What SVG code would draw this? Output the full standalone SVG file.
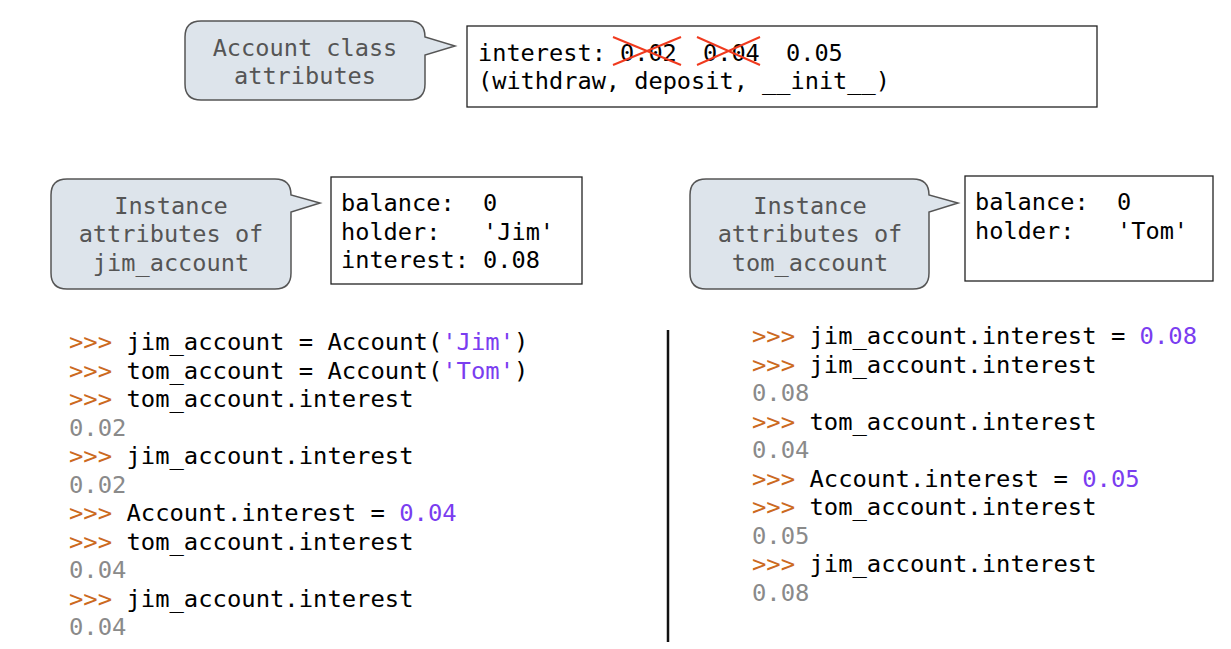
<svg xmlns="http://www.w3.org/2000/svg" width="1231" height="649" viewBox="0 0 1231 649">
<style>
text{font-family:"DejaVu Sans Mono","Liberation Mono",monospace;font-size:23.85px;fill:#000;white-space:pre}
.bub{fill:#dde4eb;stroke:#555;stroke-width:1.5}
.bt{fill:#555;text-anchor:middle;font-size:23.6px}
.tb{font-size:23.6px}
.box{fill:#fff;stroke:#222;stroke-width:1.3}
.p{fill:#cc6a1f}
.v{fill:#7a3df0}
.o{fill:#8a8a8a}
.x{stroke:#f03a1e;stroke-width:2}
</style>
<rect width="1231" height="649" fill="#fff"/>
<g id="class-bubble">
<path class="bub" d="M201,21 H409 Q425,21 425,37 L455,46 L425,55 V84 Q425,100 409,100 H201 Q185,100 185,84 V37 Q185,21 201,21 Z"/>
<text class="bt" x="305" y="56">Account class</text>
<text class="bt" x="305" y="84">attributes</text>
</g>
<g id="class-box">
<rect class="box" x="467" y="26" width="630" height="81"/>
<text class="tb" x="478" y="61">interest:</text>
<text class="tb" x="620" y="61">0.02</text>
<text class="tb" x="703" y="61">0.04</text>
<text class="tb" x="786" y="61">0.05</text>
<line class="x" x1="613" y1="37" x2="681" y2="65"/>
<line class="x" x1="613" y1="65" x2="681" y2="37"/>
<line class="x" x1="697" y1="37" x2="760" y2="65"/>
<line class="x" x1="697" y1="65" x2="760" y2="37"/>
<text class="tb" x="478" y="89">(withdraw, deposit, __init__)</text>
</g>
<g id="jim-bubble">
<path class="bub" d="M67,179 H275 Q291,179 291,195 L320,203 L291,212 V273 Q291,289 275,289 H67 Q51,289 51,273 V195 Q51,179 67,179 Z"/>
<text class="bt" x="171" y="214">Instance</text>
<text class="bt" x="171" y="242">attributes of</text>
<text class="bt" x="171" y="271">jim_account</text>
</g>
<g id="jim-box">
<rect class="box" x="331" y="177" width="251" height="107"/>
<text class="tb" x="341" y="211">balance:  0</text>
<text class="tb" x="341" y="240">holder:   'Jim'</text>
<text class="tb" x="341" y="268">interest: 0.08</text>
</g>
<g id="tom-bubble">
<path class="bub" d="M706,179 H913 Q929,179 929,195 L958,203 L929,212 V273 Q929,289 913,289 H706 Q690,289 690,273 V195 Q690,179 706,179 Z"/>
<text class="bt" x="810" y="214">Instance</text>
<text class="bt" x="810" y="242">attributes of</text>
<text class="bt" x="810" y="271">tom_account</text>
</g>
<g id="tom-box">
<rect class="box" x="965" y="176" width="248" height="105"/>
<text class="tb" x="975" y="210">balance:  0</text>
<text class="tb" x="975" y="239">holder:   'Tom'</text>
</g>
<g id="divider">
<line x1="668" y1="330" x2="668" y2="642" stroke="#111" stroke-width="2.5"/>
</g>
<g id="left-code">
<text x="69" y="350"><tspan class="p">&gt;&gt;&gt;</tspan> jim_account = Account(<tspan class="v">'Jim'</tspan>)</text>
<text x="69" y="378.5"><tspan class="p">&gt;&gt;&gt;</tspan> tom_account = Account(<tspan class="v">'Tom'</tspan>)</text>
<text x="69" y="407"><tspan class="p">&gt;&gt;&gt;</tspan> tom_account.interest</text>
<text x="69" y="435.5" class="o">0.02</text>
<text x="69" y="464"><tspan class="p">&gt;&gt;&gt;</tspan> jim_account.interest</text>
<text x="69" y="492.5" class="o">0.02</text>
<text x="69" y="521"><tspan class="p">&gt;&gt;&gt;</tspan> Account.interest = <tspan class="v">0.04</tspan></text>
<text x="69" y="549.5"><tspan class="p">&gt;&gt;&gt;</tspan> tom_account.interest</text>
<text x="69" y="578" class="o">0.04</text>
<text x="69" y="606.5"><tspan class="p">&gt;&gt;&gt;</tspan> jim_account.interest</text>
<text x="69" y="635" class="o">0.04</text>
</g>
<g id="right-code">
<text x="752" y="344"><tspan class="p">&gt;&gt;&gt;</tspan> jim_account.interest = <tspan class="v">0.08</tspan></text>
<text x="752" y="372.5"><tspan class="p">&gt;&gt;&gt;</tspan> jim_account.interest</text>
<text x="752" y="401" class="o">0.08</text>
<text x="752" y="429.5"><tspan class="p">&gt;&gt;&gt;</tspan> tom_account.interest</text>
<text x="752" y="458" class="o">0.04</text>
<text x="752" y="486.5"><tspan class="p">&gt;&gt;&gt;</tspan> Account.interest = <tspan class="v">0.05</tspan></text>
<text x="752" y="515"><tspan class="p">&gt;&gt;&gt;</tspan> tom_account.interest</text>
<text x="752" y="543.5" class="o">0.05</text>
<text x="752" y="572"><tspan class="p">&gt;&gt;&gt;</tspan> jim_account.interest</text>
<text x="752" y="600.5" class="o">0.08</text>
</g>
</svg>
